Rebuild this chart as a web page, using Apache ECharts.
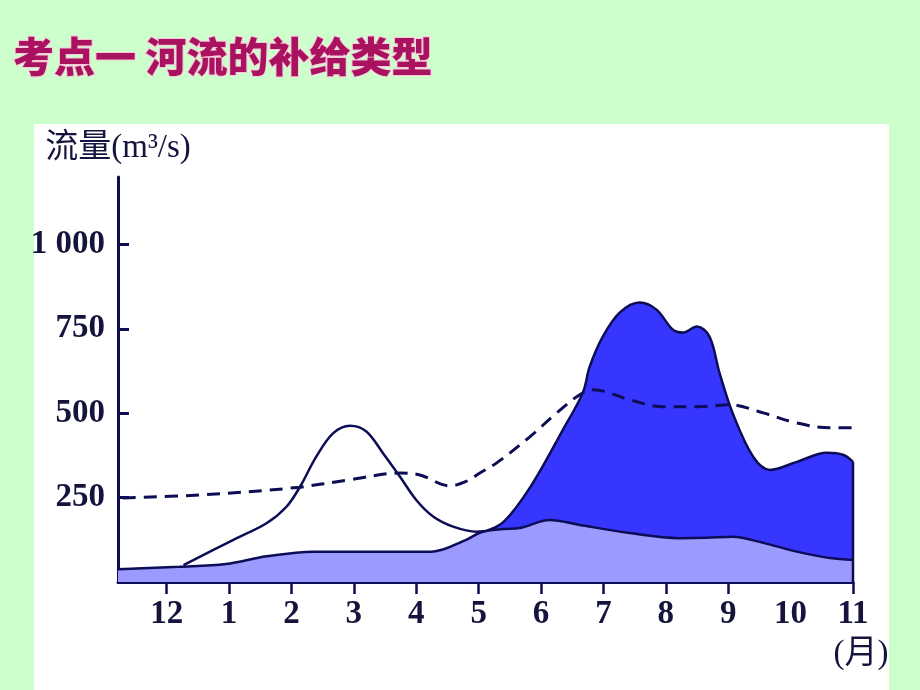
<!DOCTYPE html>
<html><head><meta charset="utf-8">
<script src="https://cdn.jsdelivr.net/npm/echarts@6/dist/echarts.min.js"></script>
<style>html,body{margin:0;padding:0;background:#ccffcc}#c{width:920px;height:690px}</style>
</head><body><div id="c"></div>
<script>
const titleText = '考点一 河流的补给类型';
const yAxisName = '流量(m³/s)';
const xAxisName = '(月)';
const monthValues = [0,1,2,3,4,5,6,7,8,9,10,11];
const monthLabels = ['12','1','2','3','4','5','6','7','8','9','10','11'];
const monthTickValues = [0,1,2,3,4,5,6,7,8,9,11];
const yLabelValues = [250,500,750,1000];
const yTickValues = [250,500,750,1000];

// light fill: base flow
const baseflow = [[-0.78,38],[0.2,45],[0.95,53],[1.6,76],[2.35,90],[3.3,90],[4.25,90],[4.8,125],[5.05,148],[5.39,157],[5.66,160],[6.14,184],[6.62,169],[7.42,145],[8.22,130],[8.65,131],[9.07,134],[9.56,116],[10.1,90],[10.63,71],[11,65]];
// dark fill: summer rain flood
const rainfall = [[5.1,150],[5.4,178],[5.83,282],[6.35,451],[6.67,561],[6.78,638],[6.99,727],[7.26,798],[7.58,828],[7.85,807],[8.11,748],[8.27,739],[8.5,757],[8.7,727],[8.86,620],[9.07,501],[9.4,371],[9.67,332],[10.1,356],[10.58,383],[10.84,377],[11,356]];
// solid line: spring snowmelt
const snowmelt = [[0.27,50],[1.07,125],[1.6,174],[1.92,223],[2.14,283],[2.4,372],[2.67,441],[2.94,463],[3.2,446],[3.47,381],[3.74,312],[4.0,243],[4.27,194],[4.59,164],[4.97,149],[5.1,151]];
// dashed line
const dashedRegime = [[-0.7,249],[0.53,258],[2.03,279],[2.94,303],[3.74,323],[4.06,317],[4.54,285],[4.8,298],[5.02,323],[5.29,353],[5.82,430],[6.25,501],[6.62,555],[6.83,570],[7.42,540],[7.95,519],[8.5,519],[9.03,525],[9.56,501],[10.1,471],[10.63,457],[11,457]];
const rightEdge = [[11,356],[11,0]];

const navy = '#0d0d55';
const chart = echarts.init(document.getElementById('c'));
chart.setOption({
  backgroundColor: '#ccffcc',
  animation: false,
  title: {
    text: titleText, left: 8, top: 31,
    textStyle: {color: '#a8125e', fontSize: 41, fontWeight: 900, fontFamily: '"Noto Sans CJK SC"',
      textBorderColor: '#f9c6dc', textBorderWidth: 2}
  },
  graphic: [{type: 'rect', z: -100, silent: true, shape: {x: 34, y: 124, width: 855, height: 570}, style: {fill: '#ffffff'}}],
  grid: {left: 118, right: 67, top: 177, bottom: 108},
  xAxis: {
    type: 'value', min: -0.78, max: 11,
    name: xAxisName, nameLocation: 'end', nameGap: 8,
    nameTextStyle: {color: '#14143c', fontSize: 33, fontFamily: '"Liberation Serif","Noto Sans CJK SC"', align: 'center', verticalAlign: 'top', padding: [56,0,0,0]},
    axisLine: {onZero: false, lineStyle: {color: navy, width: 3}},
    splitLine: {show: false},
    axisTick: {show: true, inside: false, length: 12, customValues: monthTickValues, lineStyle: {color: navy, width: 2.5}},
    axisLabel: {customValues: monthValues, margin: 16, color: '#14143c', fontSize: 33, fontWeight: 'bold', fontFamily: '"Liberation Serif"',
      formatter: v => monthLabels[monthValues.indexOf(Math.round(v))]}
  },
  yAxis: {
    type: 'value', min: 0, max: 1200,
    name: yAxisName, nameLocation: 'end', nameGap: 29,
    nameTextStyle: {color: '#14143c', fontSize: 33, fontFamily: '"Liberation Serif","Noto Sans CJK SC"', align: 'center', verticalAlign: 'middle'},
    axisLine: {show: true, onZero: false, lineStyle: {color: navy, width: 3}},
    splitLine: {show: false},
    axisTick: {show: true, inside: true, length: 11, customValues: yTickValues, lineStyle: {color: navy, width: 3}},
    axisLabel: {customValues: yLabelValues, margin: 13, color: '#14143c', fontSize: 33, fontWeight: 'bold', fontFamily: '"Liberation Serif"',
      formatter: v => v === 1000 ? '1 000' : String(v)}
  },
  series: [
    {type: 'line', data: rainfall, z: 1, smooth: 0.35, symbol: 'none',
      lineStyle: {color: navy, width: 2.5}, areaStyle: {color: '#3636ff', opacity: 1, origin: 'start'}},
    {type: 'line', data: baseflow, z: 2, smooth: 0.35, symbol: 'none',
      lineStyle: {color: navy, width: 2.5}, areaStyle: {color: '#9a9aff', opacity: 1, origin: 'start'}},
    {type: 'line', data: snowmelt, z: 3, smooth: 0.35, symbol: 'none',
      lineStyle: {color: navy, width: 2.5}},
    {type: 'line', data: dashedRegime, z: 4, smooth: 0.35, symbol: 'none',
      lineStyle: {color: navy, width: 3, type: [13, 8]}},
    {type: 'line', data: rightEdge, z: 5, symbol: 'none', lineStyle: {color: navy, width: 2.5}}
  ]
});
</script></body></html>
